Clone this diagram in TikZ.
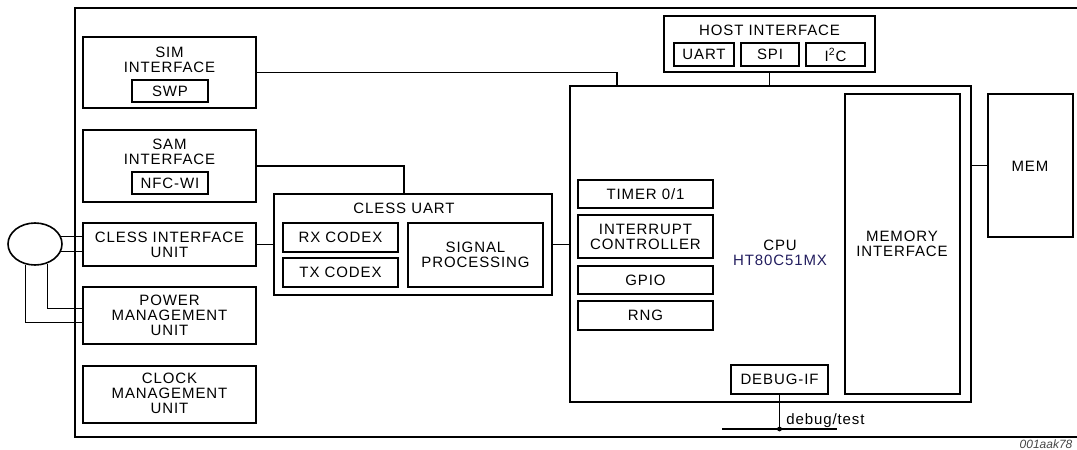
\documentclass[tikz,border=0pt]{standalone}
\usepackage{fontspec}
\setmainfont{Liberation Sans}[LetterSpace=6]
\newfontfamily\codefont{Liberation Sans}
\usetikzlibrary{fit,calc,shapes.geometric}
\definecolor{cpunavy}{RGB}{35,30,95}
\definecolor{codegray}{RGB}{70,70,70}
\tikzset{
  box/.style={draw, line width=1.1pt, inner sep=0pt},
  lbl/.style={inner sep=0pt, align=center, font=\fontsize{7.5}{7.5}\selectfont},
  wire/.style={line width=0.55pt},
  frame/.style={line width=1pt}
}
\begin{document}
\begin{tikzpicture}[x=0.5pt,y=-0.5pt]
\useasboundingbox (0,0) rectangle (1077,450);
% outer frame (right side beyond picture)
\coordinate (ftr) at (1080,8);
\coordinate (ftl) at (75,8);
\coordinate (fbl) at (75,437);
\coordinate (fbr) at (1080,437);
\draw[frame] (ftr) -- (ftl) -- (fbl) -- (fbr);

% left column
\node[box, fit={(83,37) (256,108)}] (sim) {};
\node[lbl] (simt) at (169.5,59.5) {SIM\\INTERFACE};
\node[box, fit={(132,80) (208,102)}] (swp) {};
\node[lbl] (swpt) at (swp.center) {SWP};
\node[box, fit={(83,130) (256,202)}] (sam) {};
\node[lbl] (samt) at (169.5,151.5) {SAM\\INTERFACE};
\node[box, fit={(132,172) (208,194)}] (nfc) {};
\node[lbl] (nfct) at (nfc.center) {NFC-WI};
\node[box, fit={(83,223) (256,266)}] (ciu) {};
\node[lbl] (ciut) at (ciu.center) {CLESS INTERFACE\\UNIT};
\node[box, fit={(83,287) (256,344)}] (pmu) {};
\node[lbl] (pmut) at (pmu.center) {POWER\\MANAGEMENT\\UNIT};
\node[box, fit={(83,366) (256,423)}] (cmu) {};
\node[lbl] (cmut) at (169.5,393) {CLOCK\\MANAGEMENT\\UNIT};

% antenna
\node[draw, line width=0.8pt, ellipse, minimum width=27pt, minimum height=21pt, inner sep=0pt] (ant) at (35,244) {};
\draw[wire] (ant.17) -- (ant.17 -| ciu.west);
\draw[wire] (ant.-17) -- (ant.-17 -| ciu.west);
\draw[wire] (ant.246) |- ($(pmu.west)+(0,7)$);
\draw[wire] (ant.302) |- ($(pmu.west)+(0,-7)$);

% CLESS UART
\node[box, fit={(274,194) (552,295)}] (cuart) {};
\node[lbl] (cuartt) at (404,208) {CLESS UART};
\node[box, fit={(283,223) (398,252)}] (rx) {};
\node[lbl] (rxt) at (rx.center) {RX CODEX};
\node[box, fit={(283,258) (398,287)}] (tx) {};
\node[lbl] (txt) at (tx.center) {TX CODEX};
\node[box, fit={(408,223) (543,287)}] (sp) {};
\node[lbl] (spt) at (sp.center) {SIGNAL\\PROCESSING};

% host interface
\node[box, fit={(664,16) (875,72)}] (host) {};
\node[lbl] (hostt) at (769.5,30) {HOST INTERFACE};
\node[box, fit={(674,43) (734,66)}] (uart) {};
\node[lbl] (uartt) at (uart.center) {UART};
\node[box, fit={(741,43) (799,66)}] (spi) {};
\node[lbl] (spit) at (spi.center) {SPI};
\node[box, fit={(806,43) (865,66)}] (i2c) {};
\node[lbl] (i2ct) at (i2c.center) {I\textsuperscript{2}C};

% CPU
\node[box, fit={(570,86) (971,402)}] (cpu) {};
\node[lbl] (cput) at (780,253) {CPU\\\textcolor{cpunavy}{HT80C51MX}};
\node[box, fit={(578,180) (713,208)}] (timer) {};
\node[lbl] (timert) at (timer.center) {TIMER 0/1};
\node[box, fit={(578,215) (713,258)}] (intr) {};
\node[lbl] (intrt) at (intr.center) {INTERRUPT\\CONTROLLER};
\node[box, fit={(578,266) (713,294)}] (gpio) {};
\node[lbl] (gpiot) at (gpio.center) {GPIO};
\node[box, fit={(578,301) (713,330)}] (rng) {};
\node[lbl] (rngt) at (rng.center) {RNG};
\node[box, fit={(731,365) (828,394)}] (dbg) {};
\node[lbl] (dbgt) at (dbg.center) {DEBUG-IF};
\node[box, fit={(845,94) (960,394)}] (memif) {};
\node[lbl] (memift) at (902,244) {MEMORY\\INTERFACE};

% MEM
\node[box, fit={(988,94) (1073,237)}] (mem) {};
\node[lbl] (memt) at (1030,166) {MEM};

% connectors
\coordinate (simj) at (617,86);
\draw[wire] (sim.east) -| (simj);
\coordinate (samj) at (404,194);
\draw[wire] (sam.east) -| (samj);
\draw[wire] (host.south) -- (host.south |- cpu.north);
\draw[wire] (ciu.east) -- (cuart.west);
\draw[wire] (cuart.east) -- (cuart.east -| cpu.west);
\draw[wire] (mem.west) -- (mem.west -| cpu.east);

% debug
\coordinate (dbj) at (779.5,429);
\coordinate (dbl) at (722,429);
\coordinate (dbr) at (837,429);
\draw[wire] (dbg.south) -- (dbj);
\draw[wire] (dbl) -- (dbr);
\fill (dbj) circle (1.2pt);
\node[lbl, anchor=west] (dbt) at (786,421) {debug/test};

\node[inner sep=0.6pt, anchor=south east, text=codegray, font=\codefont\fontsize{6}{6}\itshape] (code) at (1074,450) {001aak78};
\end{tikzpicture}
\end{document}
